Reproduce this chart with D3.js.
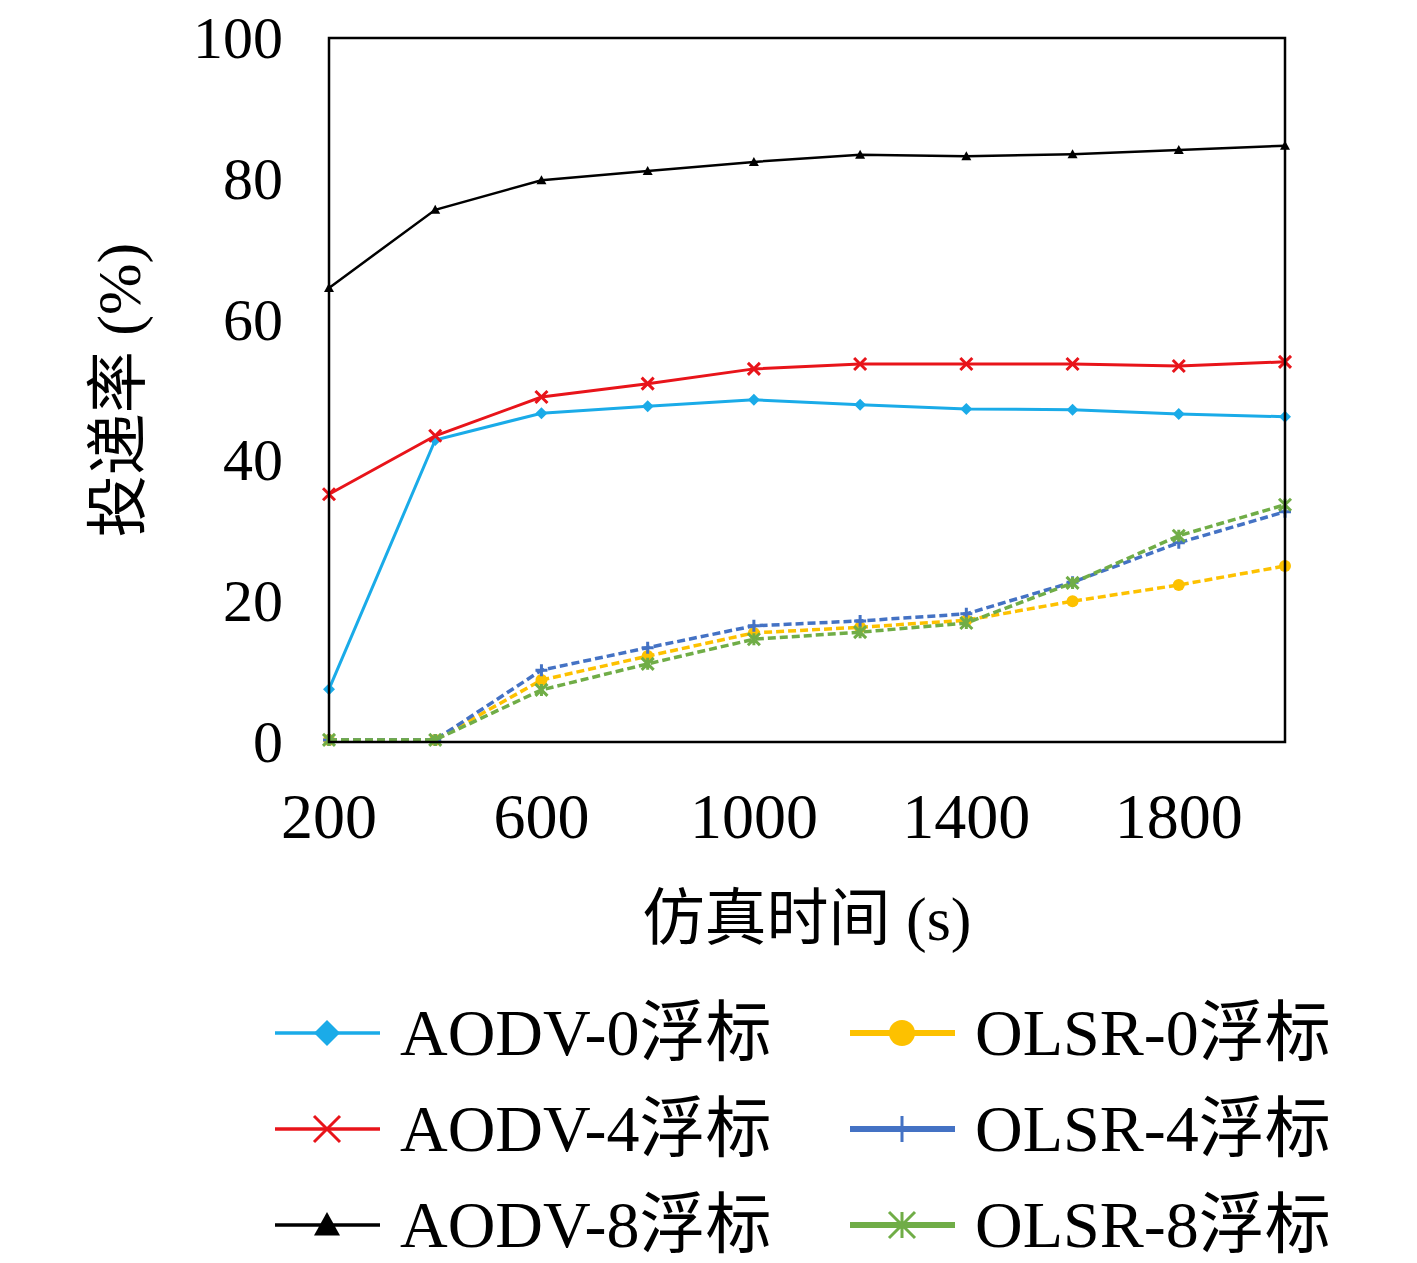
<!DOCTYPE html>
<html>
<head>
<meta charset="utf-8">
<script src="https://cdn.jsdelivr.net/npm/d3@7"></script>
<style>
body { margin: 0; background: #fff; }
text { font-family: "Liberation Serif", "Noto Sans CJK SC", serif; fill: #000; }
</style>
</head>
<body>
<svg id="chart" width="1417" height="1263"></svg>
<script>
var xValues = [200, 400, 600, 800, 1000, 1200, 1400, 1600, 1800, 2000];
var xTicks = [200, 600, 1000, 1400, 1800];
var yTicks = [0, 20, 40, 60, 80, 100];

var aodv0 = [7.5, 42.9, 46.7, 47.7, 48.6, 47.9, 47.3, 47.2, 46.6, 46.2];
var aodv4 = [35.2, 43.5, 49.0, 50.9, 53.0, 53.7, 53.7, 53.7, 53.4, 54.0];
var aodv8 = [64.5, 75.6, 79.8, 81.1, 82.4, 83.4, 83.2, 83.5, 84.1, 84.7];
var olsr0 = [0.3, 0.3, 8.8, 12.2, 15.5, 16.3, 17.3, 20.0, 22.3, 25.0];
var olsr4 = [0.3, 0.3, 10.2, 13.4, 16.5, 17.2, 18.2, 22.7, 28.3, 32.7];
var olsr8 = [0.3, 0.3, 7.4, 11.1, 14.6, 15.6, 16.9, 22.6, 29.3, 33.7];

var series = [
  { name: "AODV-0浮标", values: aodv0, color: "#1aabe8", marker: "diamond", width: 3, dash: null },
  { name: "AODV-4浮标", values: aodv4, color: "#e8141a", marker: "x", width: 3, dash: null },
  { name: "AODV-8浮标", values: aodv8, color: "#000000", marker: "triangle", width: 2.5, dash: null },
  { name: "OLSR-0浮标", values: olsr0, color: "#fdc100", marker: "circle", width: 3.5, dash: "8,4" },
  { name: "OLSR-4浮标", values: olsr4, color: "#4472c4", marker: "plus", width: 3.5, dash: "8,4" },
  { name: "OLSR-8浮标", values: olsr8, color: "#70ad47", marker: "star", width: 3.5, dash: "8,4" }
];

var svg = d3.select("#chart");
var x = d3.scaleLinear().domain([200, 2000]).range([329, 1285]);
var y = d3.scaleLinear().domain([0, 100]).range([742, 38]);

// Marker zeichnen
function drawMarker(g, cx, cy, type, color, s) {
  if (type === "diamond") {
    g.append("path").attr("d", "M" + cx + "," + (cy - s) + "L" + (cx + s) + "," + cy + "L" + cx + "," + (cy + s) + "L" + (cx - s) + "," + cy + "Z").attr("fill", color);
  } else if (type === "triangle") {
    g.append("path").attr("d", "M" + cx + "," + (cy - s) + "L" + (cx + s) + "," + (cy + s * 0.8) + "L" + (cx - s) + "," + (cy + s * 0.8) + "Z").attr("fill", color);
  } else if (type === "circle") {
    g.append("circle").attr("cx", cx).attr("cy", cy).attr("r", s).attr("fill", color);
  } else if (type === "x") {
    g.append("path").attr("d", "M" + (cx - s) + "," + (cy - s) + "L" + (cx + s) + "," + (cy + s) + "M" + (cx + s) + "," + (cy - s) + "L" + (cx - s) + "," + (cy + s)).attr("stroke", color).attr("stroke-width", 3);
  } else if (type === "plus") {
    g.append("path").attr("d", "M" + (cx - s) + "," + cy + "L" + (cx + s) + "," + cy + "M" + cx + "," + (cy - s) + "L" + cx + "," + (cy + s)).attr("stroke", color).attr("stroke-width", 3);
  } else if (type === "star") {
    g.append("path").attr("d", "M" + (cx - s) + "," + (cy - s) + "L" + (cx + s) + "," + (cy + s) + "M" + (cx + s) + "," + (cy - s) + "L" + (cx - s) + "," + (cy + s) + "M" + cx + "," + (cy - s) + "L" + cx + "," + (cy + s)).attr("stroke", color).attr("stroke-width", 3);
  }
}

var line = d3.line().x(function(d, i) { return x(xValues[i]); }).y(function(d) { return y(d); });

series.forEach(function(s) {
  var g = svg.append("g");
  g.append("path").datum(s.values).attr("d", line).attr("fill", "none")
    .attr("stroke", s.color).attr("stroke-width", s.width).attr("stroke-dasharray", s.dash);
  s.values.forEach(function(v, i) {
    drawMarker(g, x(xValues[i]), y(v), s.marker, s.color, s.marker === "triangle" ? 5 : 6);
  });
});

// Rahmen
svg.append("rect").attr("x", 329).attr("y", 38).attr("width", 956).attr("height", 704)
  .attr("fill", "none").attr("stroke", "#000").attr("stroke-width", 2.5);

svg.selectAll(".yt").data(yTicks).enter().append("text")
  .attr("x", 283).attr("y", function(d) { return y(d) + 20; })
  .attr("text-anchor", "end").attr("font-size", 60).text(function(d) { return d; });

svg.selectAll(".xt").data(xTicks).enter().append("text")
  .attr("x", function(d) { return x(d); }).attr("y", 838)
  .attr("text-anchor", "middle").attr("font-size", 64).text(function(d) { return d; });

svg.append("text").attr("x", 807).attr("y", 940).attr("text-anchor", "middle")
  .attr("font-size", 62).text("仿真时间 (s)");
svg.append("text").attr("transform", "translate(140,390) rotate(-90)").attr("text-anchor", "middle")
  .attr("font-size", 62).text("投递率 (%)");

// Legende
series.forEach(function(s, i) {
  var col = Math.floor(i / 3), row = i % 3;
  var lx = col === 0 ? 275 : 850, ly = 1033 + row * 96;
  var g = svg.append("g");
  g.append("line").attr("x1", lx).attr("x2", lx + 105).attr("y1", ly).attr("y2", ly)
    .attr("stroke", s.color).attr("stroke-width", col === 0 ? 3.5 : 6);
  drawMarker(g, lx + 52, ly, s.marker, s.color, 13);
  g.append("text").attr("x", lx + 125).attr("y", ly + 22).attr("font-size", 66).text(s.name);
});
</script>
</body>
</html>
